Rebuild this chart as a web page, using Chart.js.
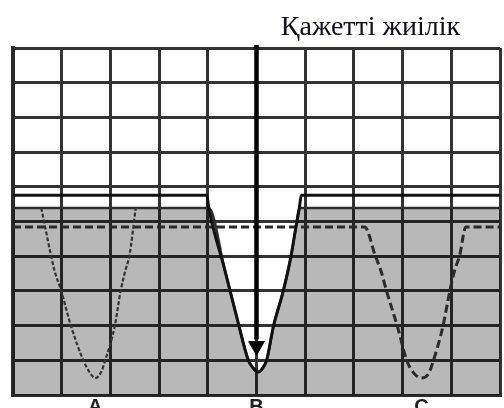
<!DOCTYPE html>
<html>
<head>
<meta charset="utf-8">
<script src="https://cdn.jsdelivr.net/npm/chart.js@4.4.1/dist/chart.umd.min.js"></script>
<style>
    html, body { margin: 0; padding: 0; background: #fff; overflow: hidden; }
    #frame { width: 504px; height: 408px; overflow: hidden; position: relative; }
    #box { width: 510px; height: 430px; position: absolute; left: 0; top: 0; }
</style>
</head>
<body>
<div id="frame"><div id="box"><canvas id="filterChart"></canvas></div></div>
<script>
// Тексты
const titleText = 'Қажетті жиілік';
const markLabels = ['A', 'B', 'C'];
const markX = [1.69, 5.0, 8.39];

// Уровни (в клетках сетки, 0 = низ)
const passLevel = 5.76;   // сплошная линия B
const greyLevel = 5.39;   // верх серой области
const dashLevel = 4.84;   // пунктир C

// Кривая A (тонкая)
const curveAX = [0.58, 0.85, 0.99, 1.19, 1.45, 1.57, 1.69, 1.81, 1.89, 2.09, 2.21, 2.31, 2.39, 2.52];
const curveAY = [5.39, 3.60, 3.00, 1.99, 0.98, 0.66, 0.49, 0.66, 0.98, 1.99, 3.00, 3.60, 4.01, 5.39];

// Кривая B (сплошная)
const curveBX = [3.98, 4.02, 4.35, 4.61, 4.83, 4.93, 5.03, 5.13, 5.21, 5.35, 5.55, 5.71, 5.81, 5.88, 5.92];
const curveBY = [5.76, 5.39, 3.60, 2.16, 1.01, 0.78, 0.66, 0.78, 1.01, 1.99, 3.00, 4.01, 4.84, 5.39, 5.76];

// Кривая C (пунктир)
const curveCX = [7.22, 7.44, 7.55, 7.67, 7.89, 8.09, 8.23, 8.39, 8.53, 8.63, 8.83, 8.97, 9.07, 9.17, 9.30];
const curveCY = [4.84, 4.01, 3.60, 3.00, 1.99, 0.98, 0.63, 0.49, 0.61, 0.98, 1.99, 3.00, 3.60, 4.01, 4.84];

// Стрелка "нужная частота"
const arrowX = 5.0;
const arrowY = [10.09, 1.6];
const arrowHeadY = 1.41;

const xMin = 0, xMax = 10;

function toPoints(xs, ys) {
    return xs.map(function (x, i) { return { x: x, y: ys[i] }; });
}

const greyPoints = [{ x: xMin, y: greyLevel }]
    .concat(toPoints(curveBX, curveBY).slice(1, -1))
    .concat([{ x: xMax, y: greyLevel }]);
const bPoints = [{ x: xMin, y: passLevel }].concat(toPoints(curveBX, curveBY)).concat([{ x: xMax, y: passLevel }]);
const cPoints = [{ x: xMin, y: dashLevel }].concat(toPoints(curveCX, curveCY)).concat([{ x: xMax, y: dashLevel }]);
const aPoints = toPoints(curveAX, curveAY);

// подписи и заголовок
const textPlugin = {
    id: 'texts',
    afterDraw: function (chart) {
        const ctx = chart.ctx;
        const xs = chart.scales.x;
        const area = chart.chartArea;
        ctx.save();
        ctx.fillStyle = '#101018';
        ctx.font = '28px "Liberation Serif"';
        ctx.textAlign = 'center';
        ctx.textBaseline = 'alphabetic';
        ctx.fillText(titleText, xs.getPixelForValue(7.34), area.top - 13);
        ctx.fillStyle = '#222';
        ctx.font = 'bold 20px "Liberation Sans"';
        ctx.textBaseline = 'top';
        markLabels.forEach(function (lbl, i) {
            ctx.fillText(lbl, xs.getPixelForValue(markX[i]), area.bottom + 2);
        });
        ctx.restore();
    }
};

const ctx = document.getElementById('filterChart').getContext('2d');
new Chart(ctx, {
    type: 'line',
    data: {
        datasets: [
            {
                data: greyPoints,
                fill: 'start',
                backgroundColor: 'rgba(0,0,0,0.28)',
                borderColor: '#2e2e2e',
                borderWidth: 2.5,
                pointRadius: 0,
                cubicInterpolationMode: 'monotone',
                order: 10
            },
            {
                data: cPoints,
                borderColor: '#2a2a2a',
                borderWidth: 3,
                borderDash: [8, 4],
                pointRadius: 0,
                cubicInterpolationMode: 'monotone',
                order: 5
            },
            {
                data: aPoints,
                borderColor: '#333',
                borderWidth: 2.2,
                borderDash: [4, 2],
                pointRadius: 0,
                cubicInterpolationMode: 'monotone',
                order: 4
            },
            {
                data: bPoints,
                borderColor: '#111',
                borderWidth: 3,
                pointRadius: 0,
                cubicInterpolationMode: 'monotone',
                order: 3
            },
            {
                data: arrowY.map(function (y) { return { x: arrowX, y: y }; }),
                borderColor: '#000',
                borderWidth: 4.5,
                pointRadius: 0,
                clip: false,
                order: 2
            },
            {
                data: [{ x: arrowX, y: arrowHeadY }],
                showLine: false,
                pointStyle: 'triangle',
                rotation: 180,
                pointRadius: 9,
                backgroundColor: '#000',
                borderColor: '#000',
                borderWidth: 1,
                clip: false,
                order: 1
            }
        ]
    },
    options: {
        responsive: true,
        maintainAspectRatio: false,
        animation: false,
        layout: { padding: { left: 13, top: 48, right: 0, bottom: 35 } },
        plugins: {
            legend: { display: false },
            tooltip: { enabled: false },
            title: { display: false }
        },
        scales: {
            x: {
                type: 'linear',
                min: xMin,
                max: xMax,
                ticks: { display: false, stepSize: 1 },
                grid: { color: '#333', lineWidth: 3, drawTicks: false },
                border: { display: true, color: '#2a2a2a', width: 3 }
            },
            y: {
                min: 0,
                max: 10,
                ticks: { display: false, stepSize: 1 },
                grid: { color: '#333', lineWidth: 3, drawTicks: false },
                border: { display: true, color: '#2a2a2a', width: 4 }
            }
        }
    },
    plugins: [textPlugin]
});
</script>
</body>
</html>
